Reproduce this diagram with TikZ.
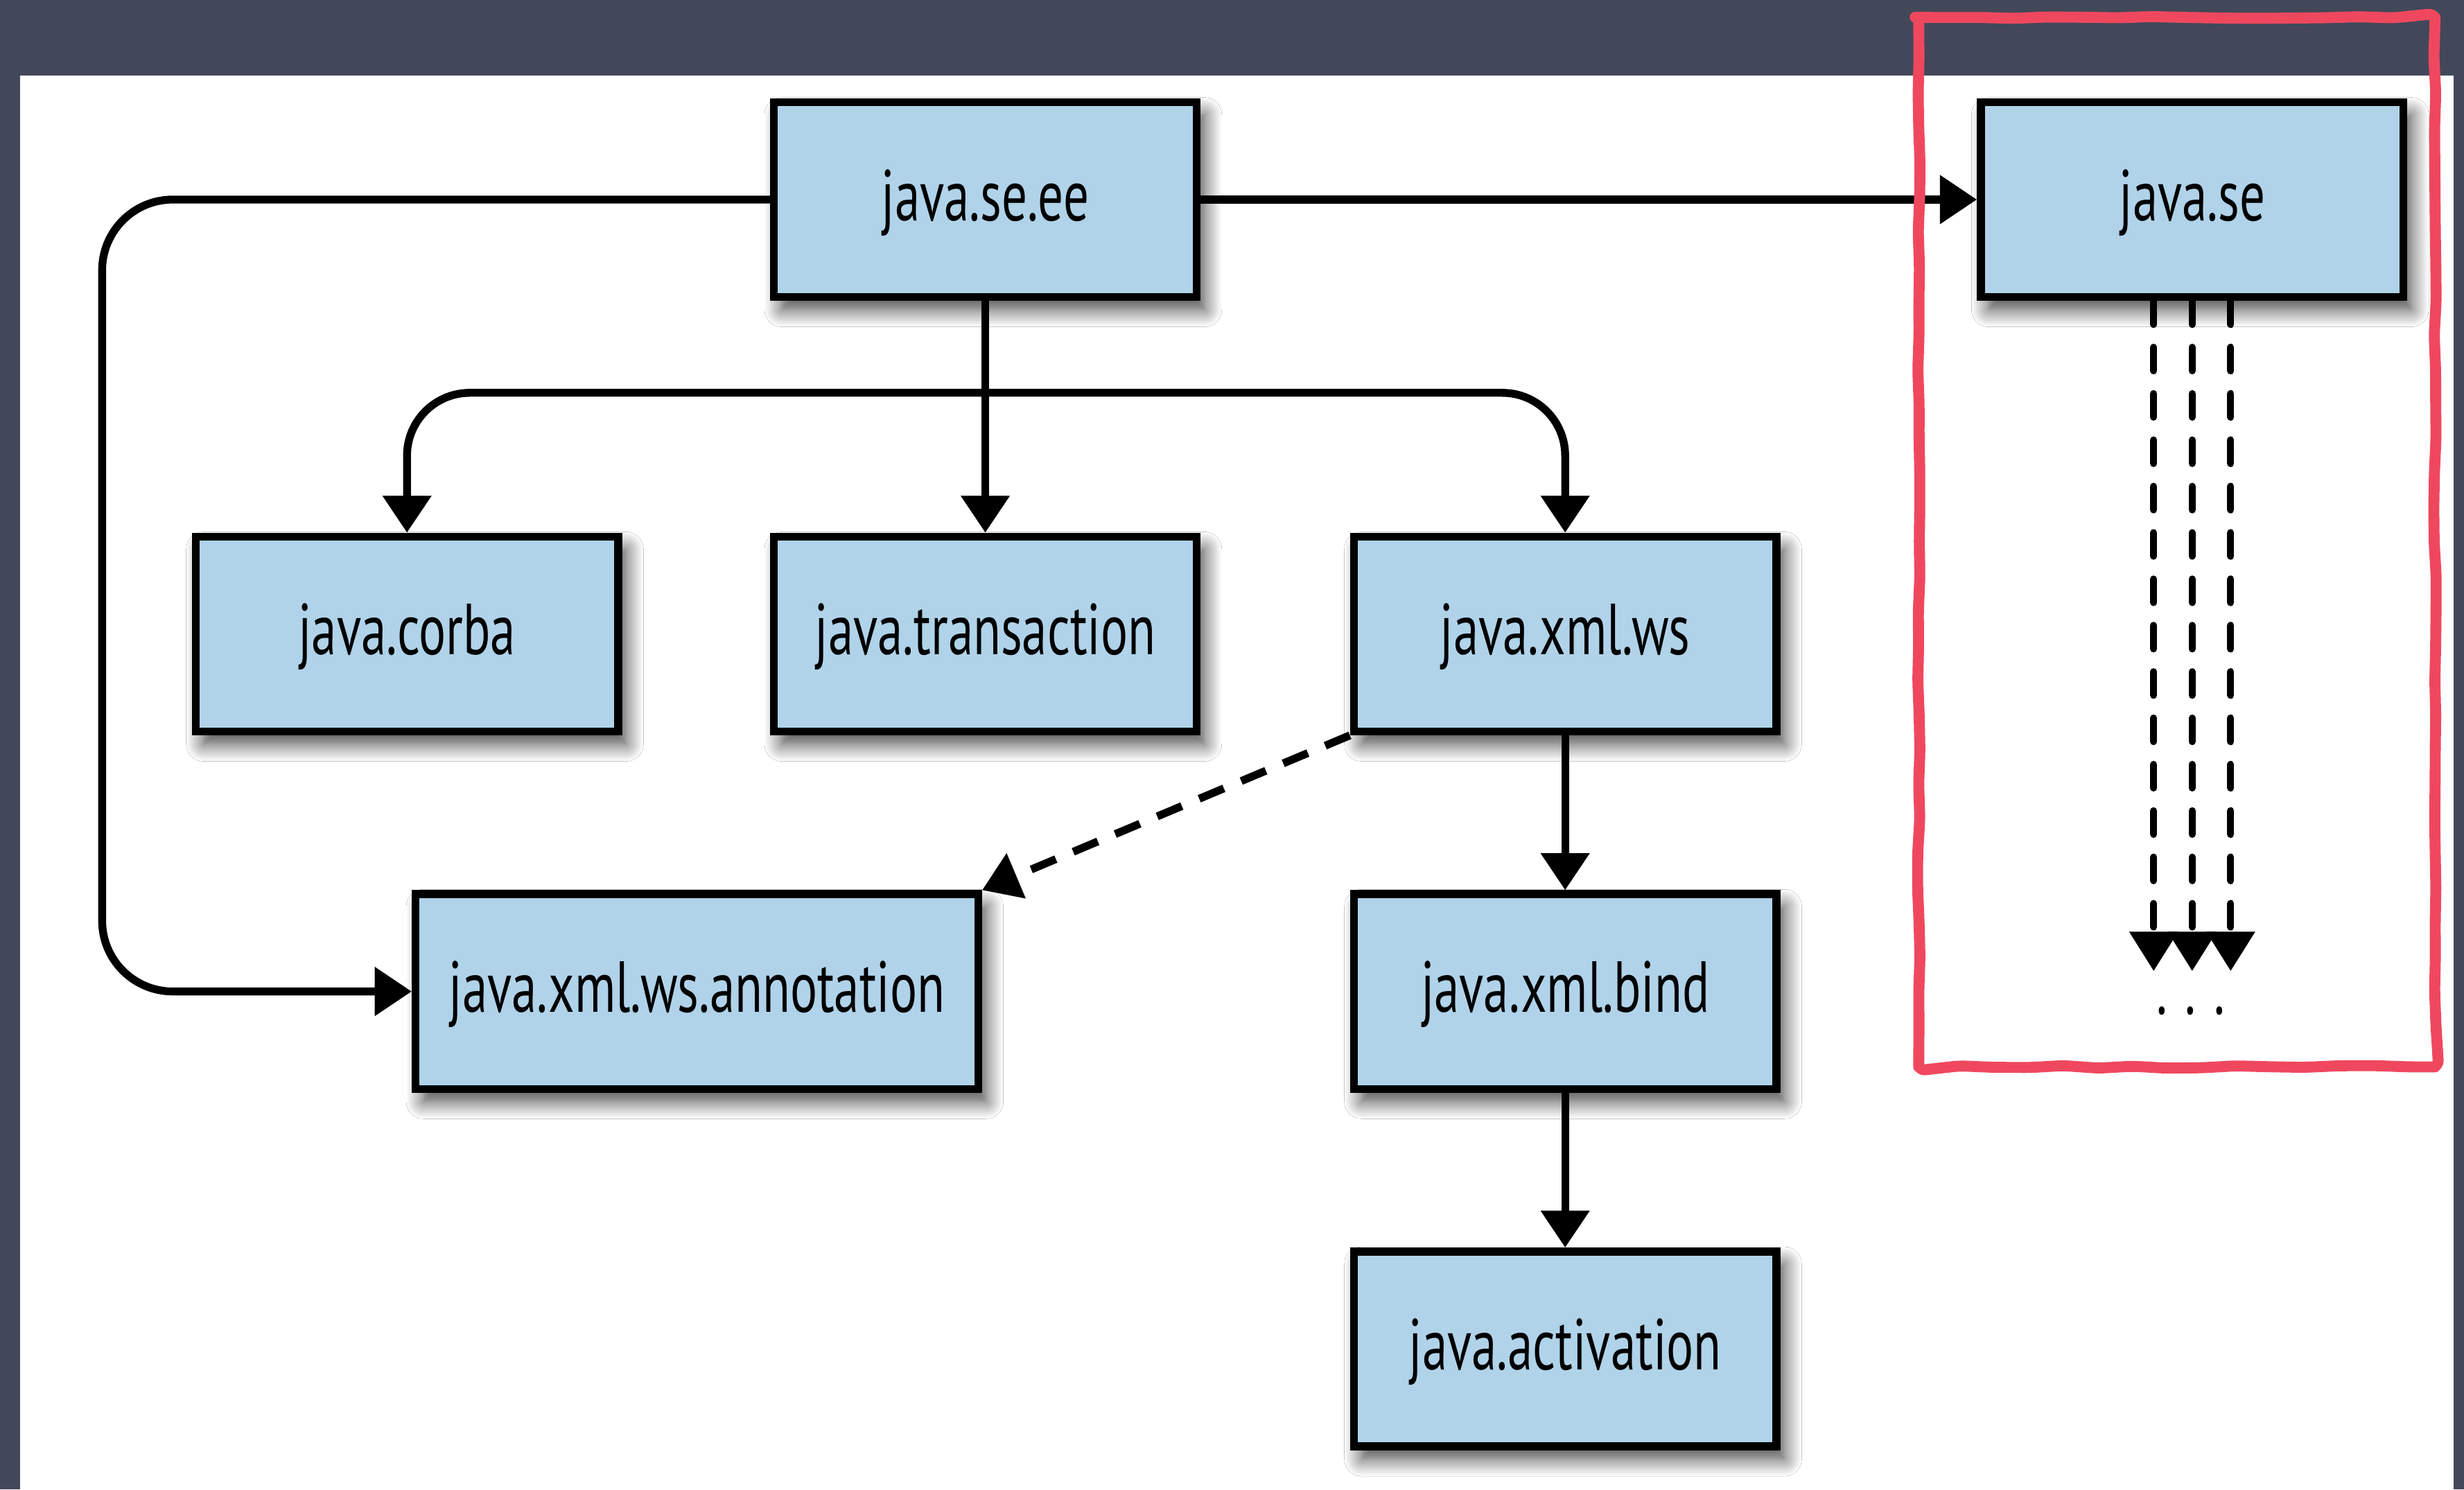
\documentclass[tikz,border=0pt]{standalone}
\usepackage{fontspec}
\setmainfont{PT Sans}[FakeStretch=0.7]
\usetikzlibrary{arrows.meta,shadows.blur,decorations.pathmorphing,calc}
\definecolor{bgdark}{RGB}{66,72,89}
\definecolor{boxblue}{RGB}{176,211,233}
\definecolor{framered}{RGB}{239,72,94}
\begin{document}
\begin{tikzpicture}[x=1pt,y=-1pt,
  mbox/.style={draw=black, line width=5pt, fill=boxblue, minimum width=269pt,
    minimum height=124pt, inner sep=0pt, text height=36pt, text depth=9.4pt,
    font=\fontsize{46}{50}\selectfont,
    blur shadow={shadow xshift=5pt, shadow yshift=-8pt, shadow blur radius=11pt, shadow opacity=75, shadow blur steps=12}},
  conn/.style={line width=5pt, -{Triangle[length=23.5pt,width=30pt]}},
  dline/.style={dash pattern=on 17pt off 12pt},
  trip/.style={line width=4.5pt, line cap=round, dash pattern=on 15pt off 14.5pt,
    -{Triangle[length=25pt,width=30pt]}},
  redframe/.style={draw=framered, line width=7pt, line join=round, line cap=round}
]
\useasboundingbox (0,0) rectangle (1568,948);
\fill[bgdark] (0,0) rectangle (1568,948);
\fill[white] (12.8,48) rectangle (1561.5,948);

\node[mbox] (ee) at (627,127) {java.se.ee};
\node[mbox] (se) at (1395,127) {java.se};
\node[mbox] (corba) at (259,403.5) {java.corba};
\node[mbox] (tr) at (627,403.5) {java.transaction};
\node[mbox] (ws) at (996,403.5) {java.xml.ws};
\node[mbox, minimum width=358pt] (ann) at (443.5,631) {java.xml.ws.annotation};
\node[mbox] (bind) at (996,631) {java.xml.bind};
\node[mbox] (act) at (996,858.5) {java.activation};

\coordinate (lft) at (65,127);
\coordinate (br) at (627,250);
\draw[conn, rounded corners=45pt] (ee.west) -- (lft) |- (ann.west);
\draw[conn] (ee.east) -- (se.west);
\draw[conn] (ee.south) -- (tr.north);
\draw[conn, rounded corners=40pt] (br) -| (corba.north);
\draw[conn, rounded corners=40pt] (br) -| (ws.north);
\draw[conn] (ws.south) -- (bind.north);
\draw[conn] (bind.south) -- (act.north);
\draw[conn, dline] (ws.south west) -- (ann.north east);

\coordinate (t1) at (1370.5,618);
\coordinate (t2) at (1395,618);
\coordinate (t3) at (1419.5,618);
\draw[trip] (se.south -| t1) -- (t1);
\draw[trip] (se.south -| t2) -- (t2);
\draw[trip] (se.south -| t3) -- (t3);
\node[anchor=base, font=\fontsize{46}{50}\selectfont, inner sep=0pt] (dots) at (1394,645.5) {. . .};

\pgfmathsetseed{7}
\draw[redframe, decorate, decoration={random steps, segment length=22pt, amplitude=0.8pt}, rounded corners=4pt]
  (1221,11) rectangle (1549.5,679);
\end{tikzpicture}
\end{document}
